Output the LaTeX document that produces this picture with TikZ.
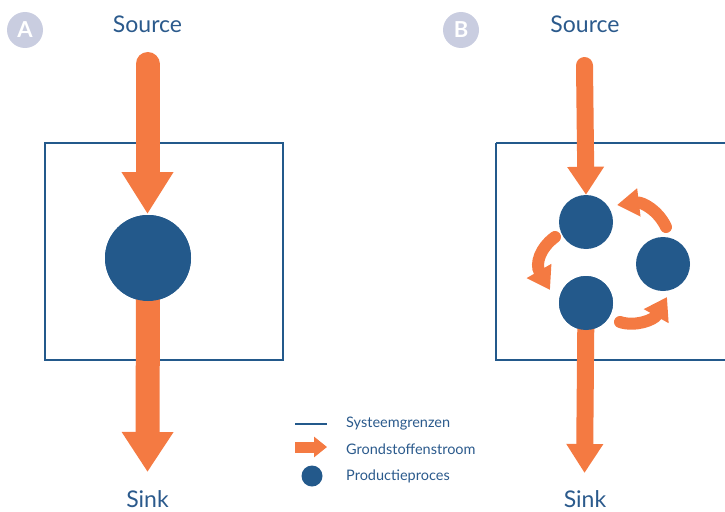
\documentclass[tikz,border=0pt]{standalone}
\usepackage{fontspec}
\setmainfont{Lato}
\usetikzlibrary{arrows.meta}
\definecolor{flow}{HTML}{F47A42}
\definecolor{proc}{HTML}{23598B}
\definecolor{txt}{HTML}{2B5A8C}
\definecolor{badgecol}{HTML}{C9CDE0}
\begin{document}
\begin{tikzpicture}[x=1pt,y=-1pt,
  boundary/.style={draw=proc, line width=1.1pt},
  procbig/.style={circle, fill=proc, inner sep=0pt, minimum size=86pt},
  procsmall/.style={circle, fill=proc, inner sep=0pt, minimum size=54pt},
  flowA/.style={draw=flow, line width=24pt, line cap=round, -{Triangle[width=49pt,length=42pt]}},
  flowAlow/.style={draw=flow, line width=24pt, -{Triangle[width=49pt,length=40pt]}},
  flowB/.style={draw=flow, line width=17pt, line cap=round, -{Triangle[width=35pt,length=28pt]}},
  flowBlow/.style={draw=flow, line width=17pt, -{Triangle[width=35pt,length=29pt]}},
  cycle/.style={draw=flow, line width=12pt, line cap=round, -{Triangle[width=27pt,length=22pt]}},
  biglabel/.style={text=txt, font=\fontsize{23}{23}\selectfont, inner sep=0pt},
  leglabel/.style={text=txt, font=\fontsize{14.5}{15}\selectfont, anchor=west, inner sep=0pt},
  badge/.style={circle, fill=badgecol, inner sep=0pt, minimum size=36pt, text=white, font=\bfseries\fontsize{22}{22}\selectfont}
]
\useasboundingbox (0,0) rectangle (725,511);

% ---------- Panel A ----------
\node[badge] (badgeA) at (25,30) {A};
\node[biglabel] (srcA) at (147.5,24) {Source};
\node[biglabel] (sinkAlbl) at (147.5,499) {Sink};
\draw[boundary] (45,143) rectangle (283,360);
\node[procbig] (pA) at (148,258) {};
\coordinate (topA) at (147.5,64);
\coordinate (endA) at (147.5,472);
\coordinate (pAtop) at (147.5,214);
\draw[flowA] (topA) -- (pAtop);
\draw[flowAlow] (pA.center) -- (endA);
\node[procbig] at (pA) {};

% ---------- Panel B ----------
\node[badge] (badgeB) at (461,30) {B};
\node[biglabel] (srcB) at (585,24) {Source};
\node[biglabel] (sinkBlbl) at (585,499) {Sink};
\draw[boundary] (496,143) -- (730,143);
\draw[boundary] (496,143) -- (496,360) -- (730,360);
\coordinate (topB) at (584.5,65.5);
\coordinate (endB) at (584.5,473);
\node[procsmall] (pB1) at (586,222) {};
\node[procsmall] (pB2) at (586,303) {};
\node[procsmall] (pB3) at (663,264) {};
\draw[flowB] (topB) -- (pB1.north);
\draw[flowBlow] (pB2.center) -- (endB);
\node[procsmall] at (pB2) {};
% cycle arrows
\coordinate (c1s) at (666,227);
\coordinate (c1e) at (617,205);
\coordinate (c2s) at (555,237);
\coordinate (c2e) at (550,290);
\coordinate (c3s) at (620,322);
\coordinate (c3e) at (667,297);
\draw[cycle] (c1s) .. controls (658,210) and (642,202) .. (c1e);
\draw[cycle] (c2s) .. controls (540,248) and (535,264) .. (c2e);
\draw[cycle] (c3s) .. controls (635,327) and (654,320) .. (c3e);

% ---------- Legend ----------
\coordinate (l1a) at (295,424);
\coordinate (l1b) at (327,424);
\draw[draw=proc, line width=1.3pt] (l1a) -- (l1b);
\coordinate (l2a) at (295,447);
\coordinate (l2b) at (327,447);
\draw[draw=flow, line width=11pt, -{Triangle[width=20pt,length=13pt]}] (l2a) -- (l2b);
\node[circle, fill=proc, inner sep=0pt, minimum size=21pt] (legdot) at (312,476) {};
\node[leglabel] (t1) at (346,424) {Systeemgrenzen};
\node[leglabel] (t2) at (346,449) {Grondstoffenstroom};
\node[leglabel] (t3) at (346,476) {Productieproces};
\end{tikzpicture}
\end{document}
